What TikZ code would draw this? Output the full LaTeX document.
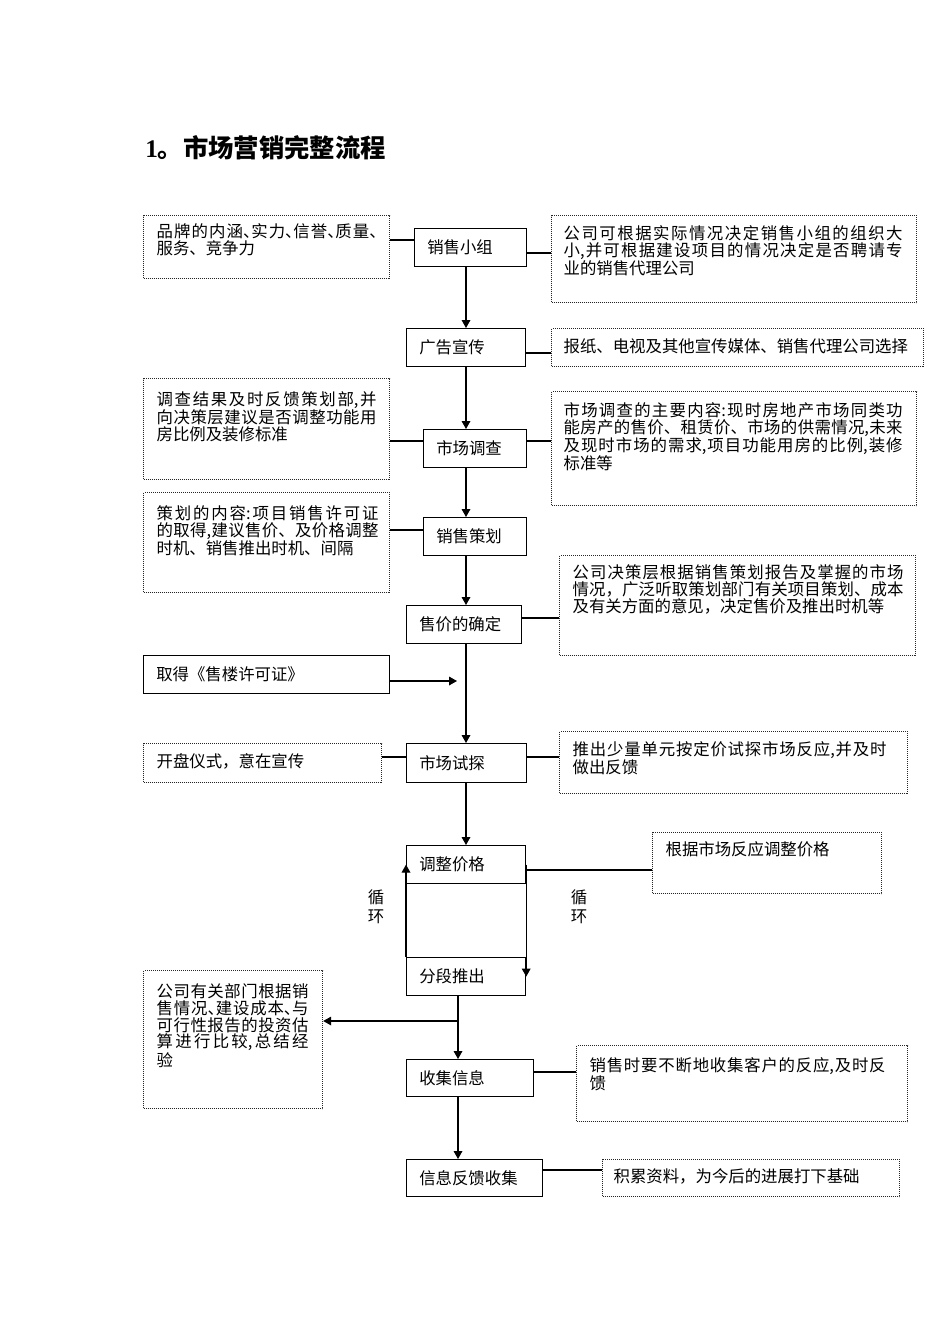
\documentclass[tikz,border=0pt]{standalone}
\usepackage{fontspec}
\setmainfont{Liberation Serif}
\newfontfamily\cjk{Noto Sans CJK SC}
\usetikzlibrary{arrows.meta}
\XeTeXlinebreaklocale "zh"
\XeTeXlinebreakskip=0pt plus 4pt
\hbadness=10000 \vbadness=10000 \hfuzz=6pt \vfuzz=6pt
\newcommand\txtfont{\cjk\fontsize{12.3pt}{12.6pt}\selectfont}
\newcommand\hd{\makebox[0.5em][l]{、}}
% name, x, y, w, h, left pad, text width, top pad, text
\newcommand\note[9]{%
  \node[notebox, anchor=north west, inner sep=0pt] (#1) at (#2,#3)
  {\parbox[c][\dimexpr0.75pt*#5\relax][t]{\dimexpr0.75pt*#4\relax}{%
    \leftskip=\dimexpr0.75pt*#6\relax
    \rightskip=\dimexpr0.75pt*(#4-#6-#7)\relax
    \vspace*{\dimexpr0.75pt*#8\relax}\txtfont #9}};}
% name, x, y, w, h, text
\newcommand\flow[6]{%
  \node[flowbox, anchor=north west, inner sep=0pt] (#1) at (#2,#3)
  {\parbox[c][\dimexpr0.75pt*#5\relax][c]{\dimexpr0.75pt*#4\relax}{%
    \leftskip=9.5pt\relax\txtfont #6}};}
\begin{document}
\begin{tikzpicture}[x=0.75pt,y=-0.75pt,
  flowbox/.style={draw=black, line width=0.9pt},
  notebox/.style={draw=black!85, line width=0.9pt, dash pattern=on 0.75pt off 0.75pt},
  conn/.style={draw=black, line width=0.9pt},
  arr/.style={conn, -{Triangle[length=6pt,width=6.5pt]}},
  looplabel/.style={inner sep=0pt, align=center, font=\cjk\fontsize{12.3pt}{14.5pt}\selectfont}]
\fill[white] (0,0) rectangle (950,1344);
\path[use as bounding box] (0,0) rectangle (950,1344);

\node[anchor=base west, inner sep=0pt] (title) at (145,158)
  {\fontsize{19pt}{22pt}\selectfont\bfseries 1\cjk 。市场营销完整流程};

% main flow boxes
\flow{xz}{414}{228}{112}{38}{销售小组}
\flow{gg}{406}{328}{119}{38}{广告宣传}
\flow{dc}{423}{429}{103}{38}{市场调查}
\flow{ch}{423}{517}{103}{38}{销售策划}
\flow{sj}{406}{605}{115}{38}{售价的确定}
\flow{qd}{143}{655}{246}{38}{取得《售楼许可证》}
\flow{ts}{406}{743}{120}{39}{市场试探}
\flow{tz}{406}{845}{119}{38}{调整价格}
\flow{fd}{406}{957}{119}{38}{分段推出}
\flow{sx}{406}{1059}{127}{37}{收集信息}
\flow{xf}{406}{1159}{136}{37}{信息反馈收集}

% notes
\note{n1}{143}{215}{246}{63}{13}{221}{8}{品牌的内涵\hd 实力\hd 信誉\hd 质量\hd\linebreak 服务、竞争力}
\note{n2}{551}{215}{365}{87}{12}{339}{10}{公司可根据实际情况决定销售小组的组织大\linebreak 小,并可根据建设项目的情况决定是否聘请专\linebreak 业的销售代理公司}
\note{n3}{551}{328}{372}{38}{12}{355}{10}{报纸、电视及其他宣传媒体、销售代理公司选择}
\note{n4}{143}{378}{246}{101}{13}{220}{13}{调查结果及时反馈策划部,并\linebreak 向决策层建议是否调整功能用\linebreak 房比例及装修标准}
\note{n5}{551}{391}{365}{114}{12}{339}{11}{市场调查的主要内容:现时房地产市场同类功\linebreak 能房产的售价、租赁价、市场的供需情况,未来\linebreak 及现时市场的需求,项目功能用房的比例,装修\linebreak 标准等}
\note{n6}{143}{492}{246}{100}{13}{222}{13}{策划的内容:项目销售许可证\linebreak 的取得,建议售价、及价格调整\linebreak 时机、销售推出时机、间隔}
\note{n7}{559}{555}{356}{100}{13}{331}{9}{公司决策层根据销售策划报告及掌握的市场\linebreak 情况，广泛听取策划部门有关项目策划、成本\linebreak 及有关方面的意见，决定售价及推出时机等}
\note{n8}{143}{743}{238}{39}{13}{210}{10}{开盘仪式，意在宣传}
\note{n9}{559}{731}{348}{62}{13}{314}{10}{推出少量单元按定价试探市场反应,并及时\linebreak 做出反馈}
\note{n10}{652}{832}{229}{61}{13}{200}{9}{根据市场反应调整价格}
\note{n11}{143}{970}{179}{138}{13}{152}{13}{公司有关部门根据销\linebreak 售情况\hd 建设成本\hd 与\linebreak 可行性报告的投资估\linebreak 算进行比较,总结经\linebreak 验}
\note{n12}{576}{1045}{331}{76}{13}{296}{12}{销售时要不断地收集客户的反应,及时反\linebreak 馈}
\note{n13}{602}{1159}{297}{37}{11}{280}{9}{积累资料，为今后的进展打下基础}

% loop labels
\node[looplabel] (lp1) at (376,907) {循\\环};
\node[looplabel] (lp2) at (579,907) {循\\环};

% helper coordinates
\coordinate (mx) at (466,0);
\coordinate (lx) at (458,0);
\coordinate (h1) at (0,240);
\coordinate (h2) at (0,253);
\coordinate (h3) at (0,353);
\coordinate (h4) at (0,441);
\coordinate (h6) at (0,530);
\coordinate (h7) at (0,618);
\coordinate (qe) at (457,681);
\coordinate (h9) at (0,757);
\coordinate (h11) at (0,870);
\coordinate (br) at (458,1021);
\coordinate (h13) at (0,1072);
\coordinate (h14) at (0,1170);

% main vertical flow
\draw[arr] (xz.south -| mx) -- (gg.north -| mx);
\draw[arr] (gg.south -| mx) -- (dc.north -| mx);
\draw[arr] (dc.south -| mx) -- (ch.north -| mx);
\draw[arr] (ch.south -| mx) -- (sj.north -| mx);
\draw[arr] (sj.south -| mx) -- (ts.north -| mx);
\draw[arr] (ts.south -| mx) -- (tz.north -| mx);
\draw[arr] (fd.north west) -- (tz.west);
\draw[arr] (tz.east) -- (fd.east);
\draw[arr] (fd.south -| lx) -- (sx.north -| lx);
\draw[arr] (sx.south -| lx) -- (xf.north -| lx);

% side connectors
\draw[conn] (n1.east |- h1) -- (xz.west |- h1);
\draw[conn] (xz.east |- h2) -- (n2.west |- h2);
\draw[conn] (gg.east |- h3) -- (n3.west |- h3);
\draw[conn] (n4.east |- h4) -- (dc.west |- h4);
\draw[conn] (dc.east |- h4) -- (n5.west |- h4);
\draw[conn] (n6.east |- h6) -- (ch.west |- h6);
\draw[conn] (sj.east |- h7) -- (n7.west |- h7);
\draw[arr] (qd.east |- qe) -- (qe);
\draw[conn] (n8.east |- h9) -- (ts.west |- h9);
\draw[conn] (ts.east |- h9) -- (n9.west |- h9);
\draw[conn] (tz.east |- h11) -- (n10.west |- h11);
\draw[arr] (br) -- (n11.east |- br);
\draw[conn] (sx.east |- h13) -- (n12.west |- h13);
\draw[conn] (xf.east |- h14) -- (n13.west |- h14);
\end{tikzpicture}
\end{document}
